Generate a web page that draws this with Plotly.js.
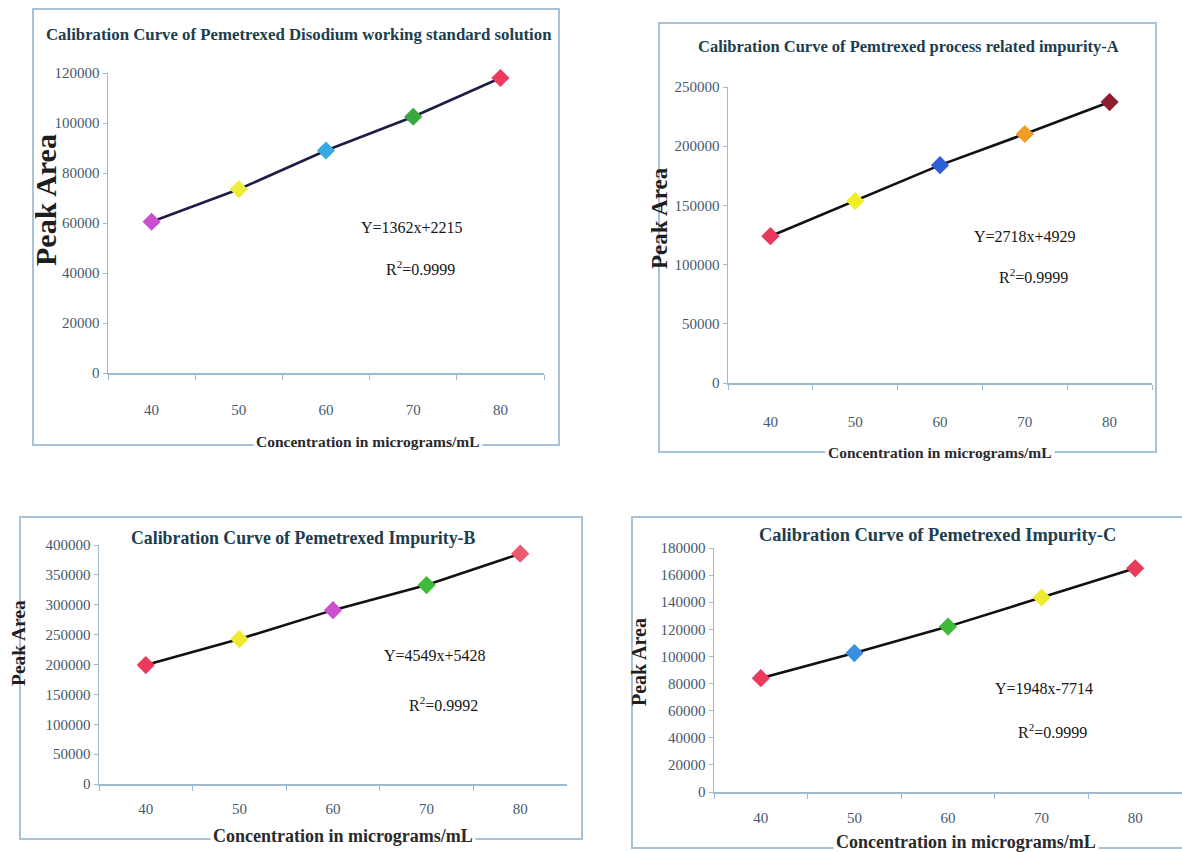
<!DOCTYPE html>
<html><head><meta charset="utf-8">
<script src="https://cdn.plot.ly/plotly-3.0.1.min.js"></script>
<style>html,body{margin:0;padding:0;background:#fff}#chart{width:1182px;height:852px}</style>
</head><body><div id="chart"></div>
<script>
// ---- data ----
const concentrations = ['40', '50', '60', '70', '80'];
const stdArea  = [60500, 73500, 89000, 102500, 118000];
const impAArea = [124000, 153700, 184000, 210300, 237300];
const impBArea = [199000, 242500, 291000, 333000, 385500];
const impCArea = [84000, 102500, 122000, 143500, 165000];

const chartTitles = [
  'Calibration Curve of Pemetrexed Disodium working standard solution',
  'Calibration Curve of Pemtrexed process related impurity-A',
  'Calibration Curve of Pemetrexed Impurity-B',
  'Calibration Curve of Pemetrexed Impurity-C'
];
const equations = ['Y=1362x+2215', 'Y=2718x+4929', 'Y=4549x+5428', 'Y=1948x-7714'];
const r2Labels = ['R<sup>2</sup>=0.9999', 'R<sup>2</sup>=0.9999', 'R<sup>2</sup>=0.9992', 'R<sup>2</sup>=0.9999'];
const xTitle = 'Concentration in micrograms/mL';
const yTitle = 'Peak Area';
const yMax = [120000, 250000, 400000, 180000];
const yStep = [20000, 50000, 50000, 20000];

const markerColors = [
  ['#c94fcf', '#ecec3a', '#35a9e0', '#3aa83e', '#ec3b5e'],
  ['#e8375d', '#f2ee25', '#2a5fd8', '#f09b28', '#8e1f30'],
  ['#ec3a5a', '#ecec2c', '#cc4fd0', '#3fba3b', '#ee5870'],
  ['#ea3b5d', '#3a8fe0', '#3fba3b', '#ecec2c', '#ea3b5d']
];
const seriesAll = [stdArea, impAArea, impBArea, impCArea];

// ---- layout geometry (pixels) ----
const W = 1182, H = 852;
const plots = [
  {x0: 108, x1: 544, y0: 73, y1: 373, standoffX: 22},
  {x0: 728, x1: 1152, y0: 87, y1: 383, standoffX: 24},
  {x0: 99, x1: 567, y0: 545, y1: 784, standoffX: 10},
  {x0: 714, x1: 1182, y0: 548, y1: 792, standoffX: 11}
];
const frames = [
  {x0: 33, x1: 559, y0: 9, y1: 445},
  {x0: 659, x1: 1156, y0: 23, y1: 452},
  {x0: 20, x1: 582, y0: 517, y1: 839},
  {x0: 632, x1: 1190, y0: 517, y1: 848}
];
const titlePos = [[299, 34, 16.8], [908, 47, 16.5], [304, 538, 17.8], [937, 535, 18.4]];
const eqPos = [[412, 228, 268], [1025, 237, 276], [435, 655, 704], [1044, 688, 731]];
const xtPos = [[368, 441, 15.5], [940, 452, 15.5], [343, 836, 18], [966, 842, 18]];
const ytPos = [[45, 200, 30], [659, 218, 23], [18, 643, 19.5], [639, 662, 20]];
const lineColors = ['#1d1d45', '#111111', '#111111', '#111111'];

const px = v => v / W, py = v => 1 - v / H;
const serif = 'Liberation Serif, Times New Roman, serif';
const axisCol = '#9dbbd0';

const data = [];
const layout = {
  width: W, height: H, margin: {l: 0, r: 0, t: 0, b: 0},
  paper_bgcolor: '#fff', plot_bgcolor: '#fff', showlegend: false,
  shapes: [], annotations: []
};

plots.forEach((p, i) => {
  const n = i === 0 ? '' : String(i + 1);
  data.push({
    type: 'scatter', mode: 'lines+markers',
    x: concentrations, y: seriesAll[i],
    xaxis: 'x' + n, yaxis: 'y' + n,
    line: {color: lineColors[i], width: 2.6},
    marker: {symbol: 'diamond', size: 14, color: markerColors[i], line: {width: 0}},
    cliponaxis: false, hoverinfo: 'x+y'
  });
  layout['xaxis' + n] = {
    type: 'category', domain: [px(p.x0), px(p.x1)], anchor: 'y' + n,
    range: [-0.5, 4.5], tickson: 'boundaries', ticks: 'outside', ticklen: 5,
    tickcolor: axisCol, showline: true, linecolor: axisCol, linewidth: 1.5,
    showgrid: false, zeroline: false, ticklabelstandoff: p.standoffX,
    tickfont: {family: serif, size: 15, color: '#45596e'}, fixedrange: true
  };
  layout['yaxis' + n] = {
    domain: [py(p.y1), py(p.y0)], anchor: 'x' + n,
    range: [0, yMax[i]], dtick: yStep[i], tick0: 0, tickformat: 'd',
    ticks: 'outside', ticklen: 4, tickcolor: axisCol,
    showline: true, linecolor: axisCol, linewidth: 1.5,
    showgrid: false, zeroline: false,
    tickfont: {family: serif, size: 15, color: '#45596e'}, fixedrange: true
  };
  const f = frames[i];
  layout.shapes.push({type: 'rect', xref: 'paper', yref: 'paper',
    x0: px(f.x0), x1: px(f.x1), y0: py(f.y1), y1: py(f.y0),
    line: {color: '#a9c3d6', width: 2}, fillcolor: 'rgba(0,0,0,0)', layer: 'below'});
  const t = titlePos[i];
  layout.annotations.push({xref: 'paper', yref: 'paper', x: px(t[0]), y: py(t[1]),
    text: '<b>' + chartTitles[i] + '</b>', showarrow: false, xanchor: 'center', yanchor: 'middle',
    font: {family: serif, size: t[2], color: '#203d4e'}});
  const e = eqPos[i];
  layout.annotations.push({xref: 'paper', yref: 'paper', x: px(e[0]), y: py(e[1]),
    text: equations[i], showarrow: false, xanchor: 'center', yanchor: 'middle',
    font: {family: serif, size: 16, color: '#151515'}});
  layout.annotations.push({xref: 'paper', yref: 'paper', x: px(e[0] + 8), y: py(e[2]),
    text: r2Labels[i], showarrow: false, xanchor: 'center', yanchor: 'middle',
    font: {family: serif, size: 16, color: '#151515'}});
  const xt = xtPos[i];
  layout.annotations.push({xref: 'paper', yref: 'paper', x: px(xt[0]), y: py(xt[1]),
    text: '<b>' + xTitle + '</b>', showarrow: false, xanchor: 'center', yanchor: 'middle',
    bgcolor: '#fff', borderpad: 2,
    font: {family: serif, size: xt[2], color: '#2a2a2a'}});
  const yt = ytPos[i];
  layout.annotations.push({xref: 'paper', yref: 'paper', x: px(yt[0]), y: py(yt[1]),
    text: '<b>' + yTitle + '</b>', showarrow: false, xanchor: 'center', yanchor: 'middle',
    textangle: -90, font: {family: serif, size: yt[2], color: '#1e1e1e'}});
});

Plotly.newPlot('chart', data, layout, {displayModeBar: false, staticPlot: true});
</script></body></html>
